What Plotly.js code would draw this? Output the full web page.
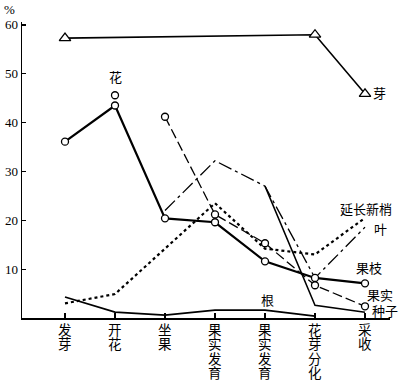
<!DOCTYPE html>
<html>
<head>
<meta charset="utf-8">
<script src="https://cdn.plot.ly/plotly-3.0.1.min.js"></script>
<style>html,body{margin:0;padding:0;background:#fff}#chart{width:400px;height:380px}</style>
</head>
<body>
<div id="chart"></div>
<script>
// Stages (x categories)
var categories = ["发芽", "开花", "坐果", "果实发育", "果实发育", "花芽分化", "采收"];
var stageIndex = [0, 1, 2, 3, 4, 5, 6];

// Series values (%)
var bud      = [57.3, null, null, null, null, 58.0, 45.9];   // 芽
var flower   = [null, 45.6, null, null, null, null, null];   // 花
var fruitBr  = [36.1, 43.5, 20.4, 19.6, 11.6, 8.2, 7.1];     // 果枝
var fruit    = [null, null, 41.2, 21.2, 15.3, 6.7, 2.4];     // 果实
var leaf     = [null, null, 22.0, 32.2, 27.0, 8.2, 18.6];    // 叶
var seed     = [null, null, null, null, 27.0, 2.6, 1.2];     // 种子
var shoot    = [3.0, 4.9, null, 23.5, 14.2, 13.0, 20.5];     // 延长新梢
var root     = [4.3, 1.2, 0.6, 1.6, 1.6, 0.4, null];         // 根

var yTicks = [10, 20, 30, 40, 50, 60];

var serif = "Liberation Serif, Noto Sans CJK SC, serif";
var openMarker = function(sym, size){
  return {symbol: sym, size: size, color: "#fff", line: {color: "#000", width: 1.3}};
};

var traces = [
  {name: "根", x: stageIndex, y: root, mode: "lines", line: {color: "#000", width: 1.8}},
  {name: "延长新梢", x: stageIndex, y: shoot, mode: "lines", connectgaps: true,
   line: {color: "#000", width: 2.2, dash: "dot"}},
  {name: "种子", x: stageIndex, y: seed, mode: "lines", line: {color: "#000", width: 1.5}},
  {name: "叶", x: stageIndex, y: leaf, mode: "lines",
   line: {color: "#000", width: 1.3, dash: "14px,4px,3px,4px"}},
  {name: "果实", x: stageIndex, y: fruit, mode: "lines+markers",
   line: {color: "#000", width: 1.3, dash: "10px,4px"}, marker: openMarker("circle", 7)},
  {name: "果枝", x: stageIndex, y: fruitBr, mode: "lines+markers",
   line: {color: "#000", width: 2.2}, marker: openMarker("circle", 7)},
  {name: "花", x: stageIndex, y: flower, mode: "markers", marker: openMarker("circle", 7)},
  {name: "芽", x: stageIndex, y: bud, mode: "lines+markers", connectgaps: true,
   line: {color: "#000", width: 1.6}, marker: openMarker("triangle-up", 10)}
];

var labFont = {family: serif, size: 13, color: "#000"};
function lab(x, y, t, xanchor){
  return {x: x, y: y, xref: "x", yref: "y", text: t, showarrow: false,
          xanchor: xanchor || "left", yanchor: "middle", font: labFont};
}

var annotations = [
  {x: 0, y: 1, xref: "paper", yref: "paper", xshift: -20, yshift: 13, text: "%",
   showarrow: false, xanchor: "left", yanchor: "middle", font: labFont},
  lab(1, 49.3, "花", "center"),
  lab(6.12, 45.9, "芽"),
  lab(5.45, 22.3, "延长新梢"),
  lab(6.13, 18.2, "叶"),
  lab(5.78, 10.2, "果枝"),
  lab(6.0, 4.7, "果实"),
  lab(6.1, 1.3, "种子"),
  lab(4.05, 3.6, "根", "center")
];

// vertical x tick labels: one character per line, stacked tightly
categories.forEach(function(cat, i){
  cat.split("").forEach(function(ch, j){
    annotations.push({x: stageIndex[i], y: 0, xref: "x", yref: "paper",
      yshift: -12 - 14.5 * j, text: ch, showarrow: false,
      xanchor: "center", yanchor: "middle",
      font: {family: serif, size: 13.5, color: "#000"}});
  });
});

var layout = {
  width: 400, height: 380,
  margin: {l: 22, r: 10, t: 22, b: 62},
  paper_bgcolor: "#fff", plot_bgcolor: "#fff",
  showlegend: false,
  font: {family: serif, color: "#000"},
  xaxis: {
    range: [-0.86, 6.5], tickvals: stageIndex, showticklabels: false,
    ticks: "inside", ticklen: 5, tickwidth: 1.2, tickcolor: "#000",
    showline: true, linecolor: "#000", linewidth: 1.5,
    showgrid: false, zeroline: false
  },
  yaxis: {
    range: [0, 60.6], tickvals: yTicks, ticktext: yTicks.map(String),
    ticks: "inside", ticklen: 4, tickwidth: 1.2, tickcolor: "#000",
    showline: true, linecolor: "#000", linewidth: 1.5,
    showgrid: false, zeroline: false,
    tickfont: {family: serif, size: 13, color: "#000"}
  },
  annotations: annotations
};

Plotly.newPlot("chart", traces, layout, {displayModeBar: false, staticPlot: true});
</script>
</body>
</html>
